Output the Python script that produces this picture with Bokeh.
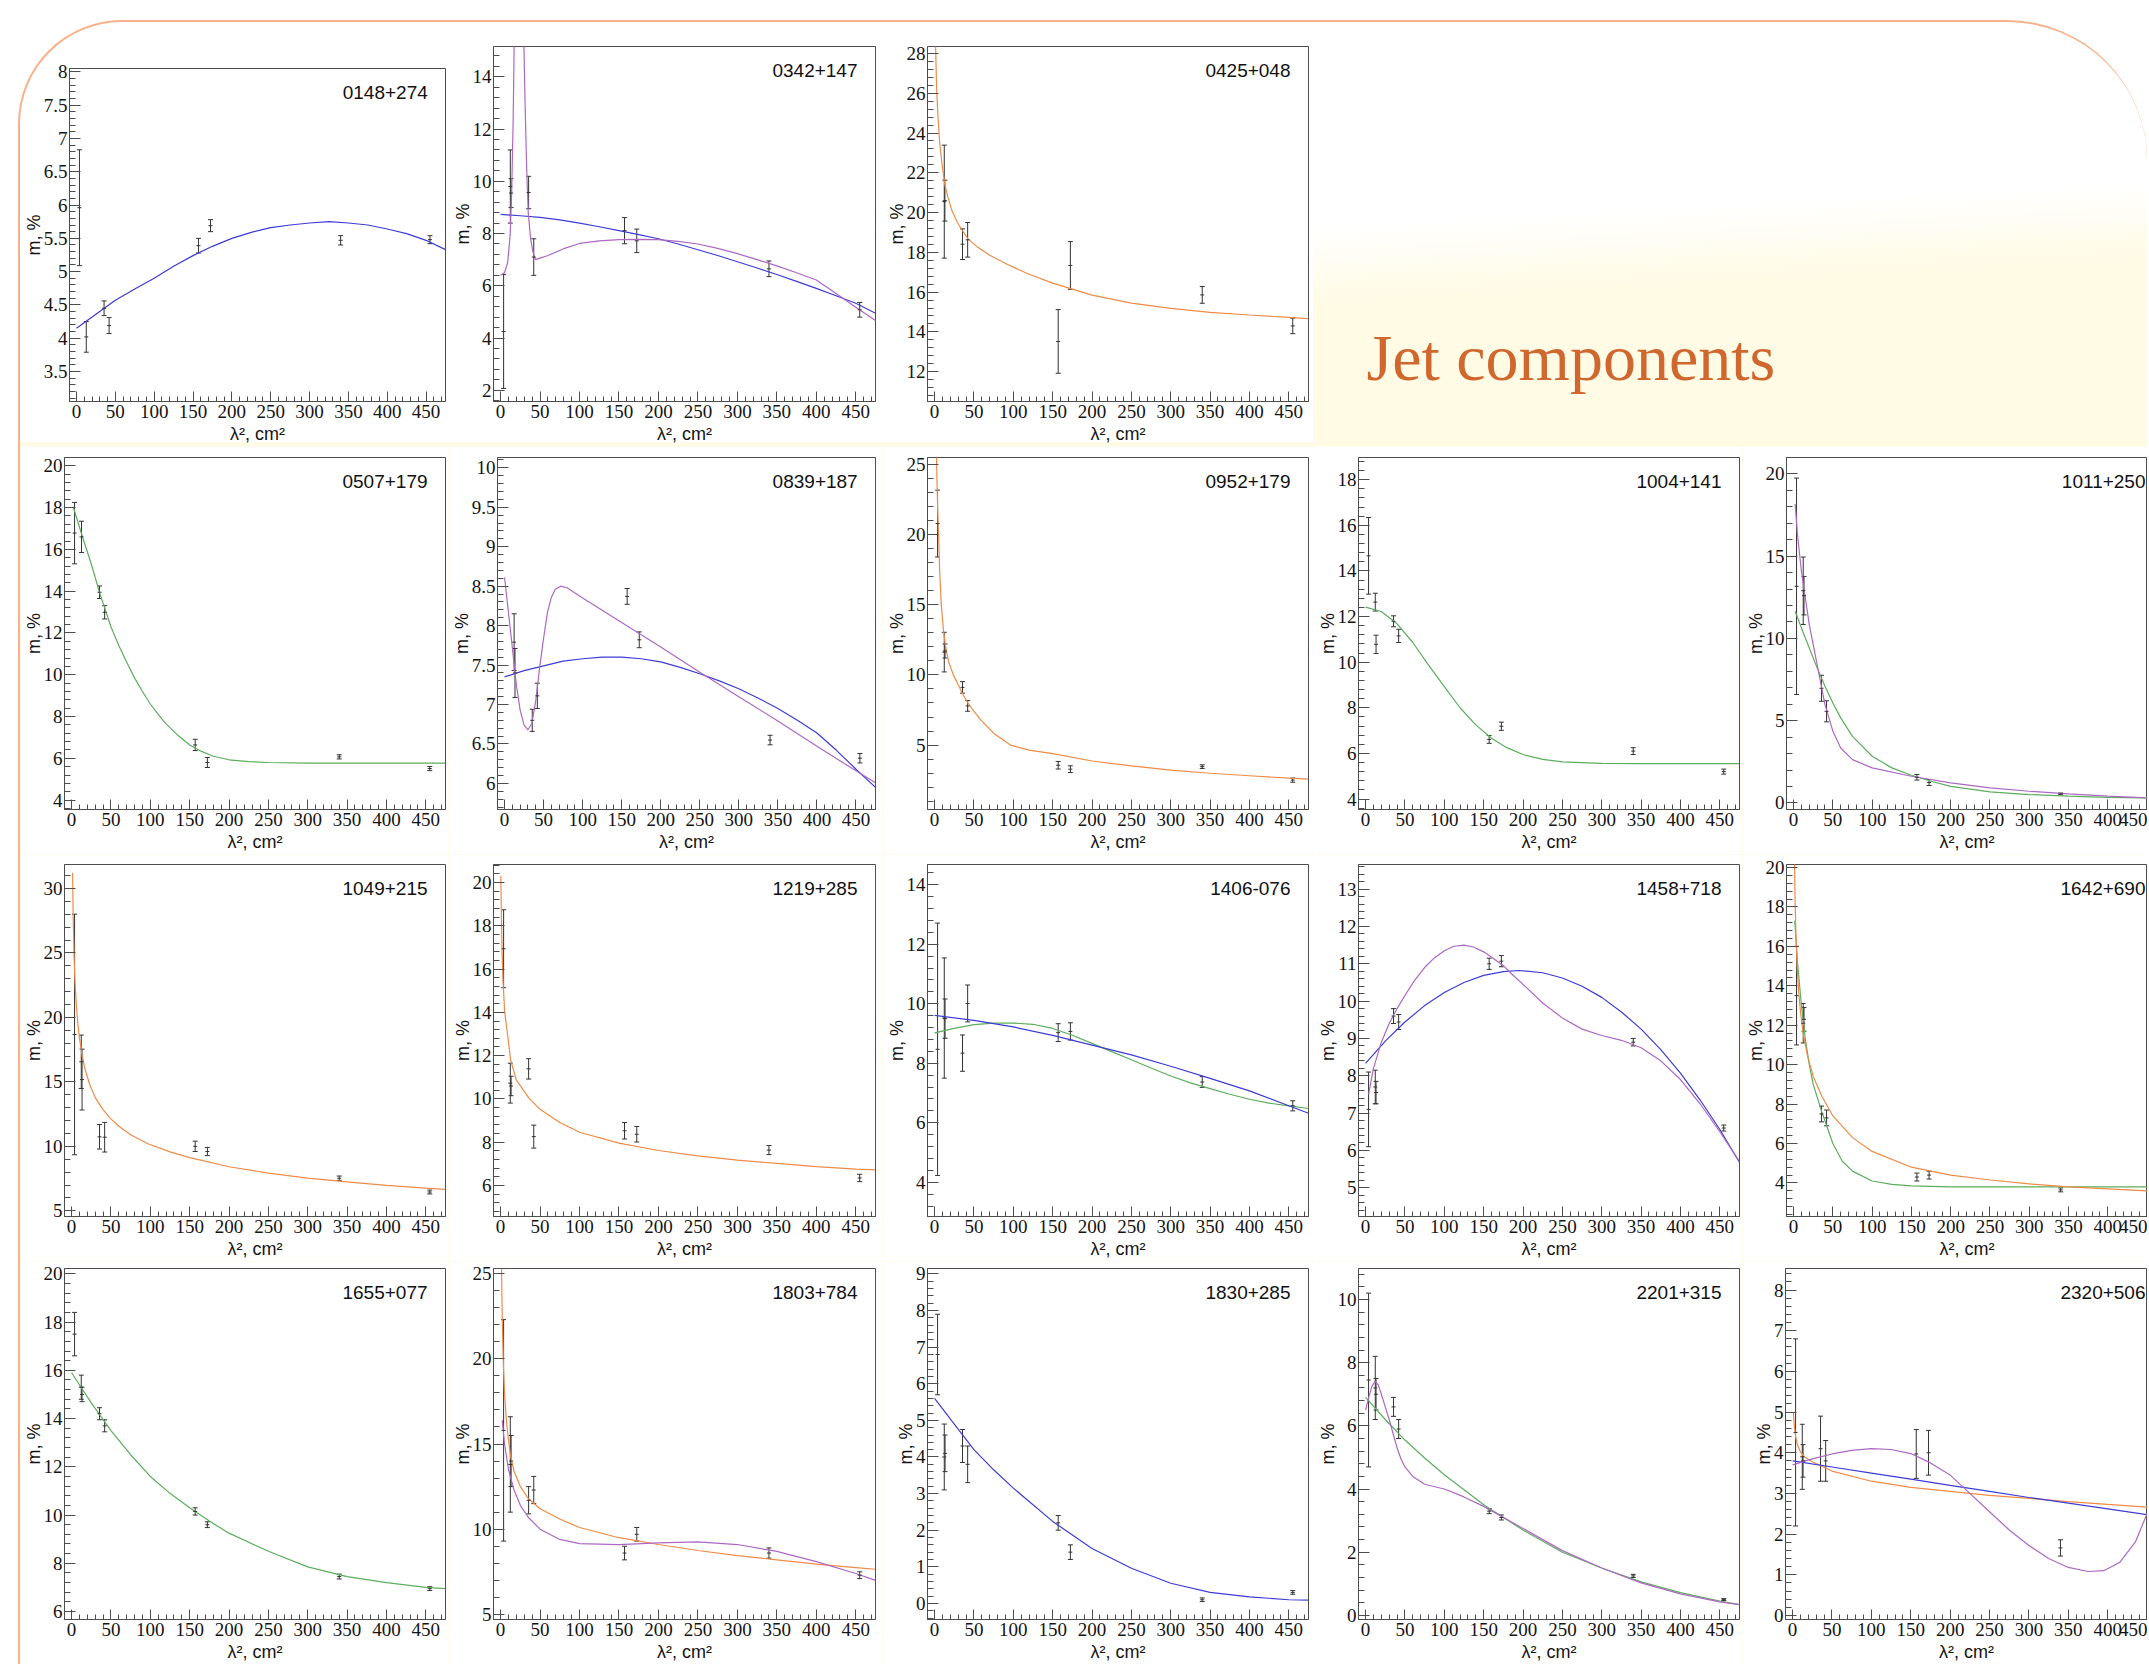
from bokeh.plotting import figure
from bokeh.models import (Range1d, SingleIntervalTicker, Whisker, TeeHead,
                          ColumnDataSource, Label, CustomJSTickFormatter, Spacer)
from bokeh.layouts import row, column
from bokeh.embed import file_html
from bokeh.resources import INLINE

BLUE = "#3c3cd7"
PURPLE = "#ad68c4"
GREEN = "#5cae5c"
ORANGE = "#ef8b46"
AXIS_C = "#4d4d4d"
BAR_C = "#333333"

XLABEL = "λ², cm²"
YLABEL = "m, %"
HEADING = "Jet components"

# ---------------- data: points (lambda^2, m, error) and fitted curves ----------------
s0148_x = [3.8, 12.6, 35.5, 42.0, 157.0, 172.5, 340.0, 455.0]
s0148_m = [5.96, 4.02, 4.45, 4.19, 5.39, 5.69, 5.47, 5.48]
s0148_e = [0.87, 0.23, 0.11, 0.12, 0.11, 0.09, 0.07, 0.06]
f0148_blue_x = [0, 25, 50, 75, 100, 125, 150, 175, 200, 225, 250, 275, 300, 325, 350, 375, 400, 425, 450, 475]
f0148_blue_y = [4.15, 4.36, 4.57, 4.74, 4.90, 5.08, 5.24, 5.38, 5.50, 5.59, 5.66, 5.70, 5.73, 5.75, 5.73, 5.70, 5.64, 5.57, 5.47, 5.33]

s0342_x = [3.8, 12.3, 13.3, 35.5, 42.0, 157.0, 172.5, 340.0, 455.0]
s0342_m = [4.25, 9.8, 9.55, 9.57, 7.1, 8.11, 7.72, 6.65, 5.08]
s0342_e = [2.18, 1.4, 0.55, 0.62, 0.7, 0.5, 0.45, 0.3, 0.28]
f0342_blue_x = [0, 25, 50, 75, 100, 125, 150, 175, 200, 225, 250, 275, 300, 325, 350, 375, 400, 425, 450, 475]
f0342_blue_y = [8.73, 8.68, 8.62, 8.52, 8.40, 8.26, 8.11, 7.96, 7.80, 7.60, 7.38, 7.16, 6.92, 6.68, 6.43, 6.17, 5.90, 5.62, 5.33, 4.95]
f0342_purple_x = [0, 5, 9, 12, 14, 16, 17.5, 29, 31, 33, 35, 38, 41, 44, 50, 60, 80, 100, 125, 150, 175, 200, 225, 250, 275, 300, 325, 350, 375, 400, 425, 450, 475]
f0342_purple_y = [6.4, 6.5, 6.9, 7.9, 9.5, 12.5, 16.0, 16.0, 13.0, 10.5, 8.8, 7.8, 7.3, 7.0, 7.06, 7.16, 7.42, 7.62, 7.72, 7.77, 7.78, 7.77, 7.70, 7.60, 7.43, 7.23, 7.00, 6.76, 6.50, 6.22, 5.70, 5.18, 4.67]

s0425_x = [12.3, 13.1, 35.5, 42.0, 157.0, 172.5, 340.0, 455.0]
s0425_m = [20.55, 20.6, 18.41, 18.63, 13.52, 17.34, 15.86, 14.3]
s0425_e = [2.84, 1.03, 0.77, 0.87, 1.6, 1.2, 0.42, 0.39]
f0425_orange_x = [1.3, 2.5, 4.2, 6.5, 9.6, 13, 16.8, 22, 29, 36, 43, 55, 70, 92, 120, 150, 200, 250, 300, 350, 400, 450, 475]
f0425_orange_y = [28.4, 26.3, 24.9, 23.5, 22.4, 21.4, 20.8, 20.1, 19.5, 19.05, 18.65, 18.25, 17.85, 17.4, 16.9, 16.45, 15.85, 15.45, 15.18, 14.98, 14.85, 14.73, 14.67]

s0507_x = [3.8, 12.6, 35.5, 42.0, 157.0, 172.5, 340.0, 455.0]
s0507_m = [16.78, 16.6, 13.95, 12.99, 6.64, 5.8, 6.07, 5.51]
s0507_e = [1.47, 0.75, 0.3, 0.32, 0.27, 0.24, 0.1, 0.1]
f0507_green_x = [2, 12.6, 25, 35, 42, 50, 60, 70, 80, 90, 100, 110, 120, 135, 150, 165, 180, 200, 225, 250, 300, 400, 475]
f0507_green_y = [18.05, 16.75, 15.3, 14.0, 13.2, 12.3, 11.4, 10.6, 9.85, 9.2, 8.6, 8.1, 7.65, 7.1, 6.64, 6.33, 6.1, 5.93, 5.84, 5.8, 5.77, 5.77, 5.77]

s0839_x = [12.3, 13.4, 35.5, 42.0, 157.0, 172.5, 340.0, 455.0]
s0839_m = [7.79, 7.40, 6.80, 7.11, 8.37, 7.82, 6.55, 6.32]
s0839_e = [0.36, 0.31, 0.14, 0.16, 0.10, 0.10, 0.06, 0.06]
f0839_blue_x = [0, 25, 50, 75, 100, 125, 150, 175, 200, 225, 250, 275, 300, 325, 350, 375, 400, 425, 450, 475]
f0839_blue_y = [7.35, 7.43, 7.49, 7.55, 7.58, 7.60, 7.60, 7.58, 7.54, 7.47, 7.39, 7.30, 7.20, 7.08, 6.95, 6.80, 6.64, 6.42, 6.18, 5.95]
f0839_purple_x = [0, 5, 10, 15, 20, 25, 30, 35, 40, 45, 50, 55, 60, 65, 72, 80, 100, 150, 200, 250, 300, 350, 400, 450, 475]
f0839_purple_y = [8.61, 8.17, 7.72, 7.26, 6.93, 6.74, 6.68, 6.76, 7.05, 7.47, 7.84, 8.17, 8.36, 8.46, 8.50, 8.48, 8.35, 8.04, 7.73, 7.41, 7.10, 6.79, 6.47, 6.16, 6.01]

s0952_x = [3.8, 12.3, 13.3, 35.5, 42.0, 157.0, 172.5, 340.0, 455.0]
s0952_m = [20.77, 11.62, 11.7, 9.11, 7.79, 3.57, 3.29, 3.47, 2.51]
s0952_e = [2.38, 1.41, 0.5, 0.41, 0.38, 0.27, 0.24, 0.13, 0.15]
f0952_orange_x = [2.4, 3.2, 4.0, 5.1, 6.5, 8.5, 11, 14, 18, 23.8, 30, 36, 42.4, 50, 58.6, 75, 96.8, 120, 150, 200, 250, 300, 350, 400, 450, 475]
f0952_orange_y = [25.5, 23.5, 21.6, 20.0, 17.3, 15.0, 13.3, 12.0, 10.9, 10.0, 9.3, 8.6, 8.0, 7.4, 6.8, 5.85, 5.0, 4.65, 4.39, 3.87, 3.52, 3.22, 3.0, 2.82, 2.65, 2.58]

s1004_x = [3.8, 12.3, 13.3, 35.5, 42.0, 157.0, 172.5, 340.0, 455.0]
s1004_m = [14.66, 12.63, 10.78, 11.79, 11.15, 6.61, 7.19, 6.10, 5.20]
s1004_e = [1.68, 0.39, 0.40, 0.24, 0.29, 0.17, 0.18, 0.15, 0.11]
f1004_green_x = [0, 20, 40, 60, 80, 100, 120, 140, 160, 180, 200, 225, 250, 300, 350, 400, 475]
f1004_green_y = [12.41, 12.22, 11.68, 10.86, 9.87, 8.93, 8.0, 7.25, 6.66, 6.24, 5.95, 5.74, 5.63, 5.56, 5.55, 5.55, 5.55]

s1011_x = [3.8, 12.3, 13.3, 35.5, 42.0, 157.0, 172.5, 340.0, 455.0]
s1011_m = [13.17, 12.9, 12.6, 6.97, 5.57, 1.56, 1.24, 0.55, 0.30]
s1011_e = [6.58, 2.05, 1.17, 0.79, 0.64, 0.17, 0.18, 0.05, 0.05]
f1011_purple_x = [2, 5, 10, 15, 20, 30, 40, 50, 60, 75, 100, 150, 200, 250, 300, 350, 400, 452]
f1011_purple_y = [18.18, 16.3, 14.08, 12.46, 10.84, 8.41, 5.98, 4.36, 3.34, 2.63, 2.13, 1.62, 1.22, 0.91, 0.71, 0.55, 0.41, 0.30]
f1011_green_x = [2, 10, 20, 30, 40, 50, 60, 75, 100, 125, 150, 175, 200, 250, 300, 350, 400, 452]
f1011_green_y = [11.65, 10.64, 9.42, 8.21, 7.09, 6.08, 5.17, 4.05, 2.84, 2.13, 1.68, 1.32, 1.01, 0.67, 0.51, 0.41, 0.34, 0.30]

s1049_x = [3.8, 12.3, 13.3, 35.5, 42.0, 157.0, 172.5, 340.0, 455.0]
s1049_m = [18.68, 16.56, 15.18, 10.74, 10.71, 10.0, 9.6, 7.53, 6.46]
s1049_e = [9.33, 2.07, 2.36, 0.95, 1.15, 0.4, 0.32, 0.17, 0.15]
f1049_orange_x = [1.3, 2, 3, 4, 5, 6.5, 8, 10, 13, 17, 23, 30, 38, 48, 60, 75, 97, 125, 150, 200, 250, 300, 350, 400, 450, 475]
f1049_orange_y = [31.2, 27.9, 25.1, 23.3, 22.0, 20.6, 19.5, 18.4, 17.2, 16.0, 14.8, 13.8, 13.0, 12.25, 11.56, 10.9, 10.2, 9.57, 9.13, 8.42, 7.93, 7.54, 7.24, 6.98, 6.76, 6.66]

s1219_x = [3.8, 12.3, 13.3, 35.5, 42.0, 157.0, 172.5, 340.0, 455.0]
s1219_m = [16.94, 10.73, 10.6, 11.39, 8.26, 8.53, 8.37, 7.64, 6.35]
s1219_e = [1.8, 0.92, 0.45, 0.47, 0.53, 0.38, 0.36, 0.21, 0.17]
f1219_orange_x = [0.3, 1.0, 2.0, 3.0, 5.1, 9.3, 12.7, 19.9, 35.6, 50, 75, 100, 150, 200, 250, 300, 350, 400, 450, 475]
f1219_orange_y = [20.3, 18.4, 16.6, 15.5, 14.05, 12.84, 11.8, 10.88, 10.05, 9.52, 8.91, 8.46, 7.96, 7.62, 7.37, 7.17, 7.02, 6.87, 6.76, 6.72]

s1406_x = [3.8, 12.3, 13.3, 35.5, 42.0, 157.0, 172.5, 340.0, 455.0]
s1406_m = [8.47, 9.52, 9.5, 8.34, 10.01, 9.03, 9.07, 7.37, 6.57]
s1406_e = [4.24, 2.02, 0.66, 0.61, 0.62, 0.3, 0.29, 0.18, 0.17]
f1406_blue_x = [0, 50, 100, 150, 200, 250, 300, 350, 400, 450, 475]
f1406_blue_y = [9.61, 9.44, 9.22, 8.94, 8.61, 8.28, 7.90, 7.49, 7.07, 6.57, 6.32]
f1406_green_x = [0, 25, 50, 75, 100, 125, 150, 175, 200, 225, 250, 275, 300, 325, 350, 375, 400, 425, 450, 475]
f1406_green_y = [9.02, 9.17, 9.30, 9.35, 9.35, 9.31, 9.17, 8.94, 8.67, 8.39, 8.12, 7.84, 7.57, 7.34, 7.15, 6.96, 6.79, 6.66, 6.57, 6.48]

s1458_x = [3.8, 12.3, 13.3, 35.5, 42.0, 157.0, 172.5, 340.0, 455.0]
s1458_m = [7.1, 7.7, 7.55, 9.6, 9.44, 11.0, 11.07, 8.9, 6.6]
s1458_e = [1.0, 0.45, 0.3, 0.2, 0.2, 0.15, 0.15, 0.1, 0.08]
f1458_blue_x = [0, 25, 50, 75, 100, 125, 150, 175, 195, 225, 250, 275, 300, 325, 350, 375, 400, 425, 450, 475]
f1458_blue_y = [8.33, 8.93, 9.44, 9.88, 10.23, 10.5, 10.69, 10.79, 10.82, 10.76, 10.62, 10.4, 10.1, 9.71, 9.25, 8.7, 8.07, 7.35, 6.56, 5.68]
f1458_purple_x = [3.8, 10, 20, 30, 40, 50, 62, 75, 87, 100, 112, 125, 137, 150, 162, 175, 187, 200, 225, 250, 275, 300, 325, 350, 375, 400, 425, 450, 475]
f1458_purple_y = [7.5, 8.2, 8.9, 9.4, 9.8, 10.15, 10.55, 10.9, 11.15, 11.35, 11.47, 11.5, 11.45, 11.32, 11.15, 10.95, 10.7, 10.45, 9.95, 9.55, 9.25, 9.08, 8.95, 8.75, 8.4, 7.9, 7.25, 6.5, 5.7]

s1642_x = [3.8, 12.3, 13.3, 35.5, 42.0, 157.0, 172.5, 340.0, 455.0]
s1642_m = [13.5, 12.1, 12.3, 7.5, 7.3, 4.3, 4.4, 3.65, 3.6]
s1642_e = [2.5, 1.0, 0.6, 0.4, 0.4, 0.2, 0.2, 0.1, 0.1]
f1642_orange_x = [1.2, 2, 3, 4.5, 6.5, 9, 12.6, 18, 25, 36, 50, 75, 100, 150, 200, 250, 300, 350, 400, 452]
f1642_orange_y = [20.3, 18.2, 16.6, 15.0, 13.7, 12.6, 11.5, 10.4, 9.4, 8.4, 7.4, 6.3, 5.6, 4.8, 4.4, 4.15, 3.95, 3.8, 3.7, 3.6]
f1642_green_x = [1.5, 5, 10, 15, 20, 25, 36, 50, 62, 75, 100, 125, 150, 200, 250, 300, 350, 400, 452]
f1642_green_y = [17.3, 15.2, 13.0, 11.3, 10.0, 9.0, 7.6, 6.0, 5.1, 4.6, 4.1, 3.93, 3.85, 3.8, 3.8, 3.8, 3.8, 3.8, 3.8]

s1655_x = [3.8, 12.3, 13.3, 35.5, 42.0, 157.0, 172.5, 340.0, 455.0]
s1655_m = [17.5, 15.3, 15.0, 14.2, 13.7, 10.15, 9.6, 7.45, 6.95]
s1655_e = [0.9, 0.5, 0.3, 0.25, 0.25, 0.15, 0.12, 0.1, 0.08]
f1655_green_x = [0, 25, 50, 75, 100, 125, 150, 175, 200, 250, 300, 350, 400, 450, 475]
f1655_green_y = [15.9, 14.65, 13.5, 12.5, 11.6, 10.9, 10.3, 9.75, 9.25, 8.5, 7.85, 7.45, 7.2, 7.0, 6.95]

s1803_x = [3.8, 12.3, 13.3, 35.5, 42.0, 157.0, 172.5, 340.0, 455.0]
s1803_m = [15.8, 13.8, 14.0, 11.7, 12.3, 8.6, 9.7, 8.6, 7.3]
s1803_e = [6.5, 2.8, 1.5, 0.8, 0.8, 0.4, 0.4, 0.3, 0.2]
f1803_orange_x = [1.2, 2, 3, 3.8, 5, 7, 9, 12.6, 17, 25, 35, 50, 75, 100, 150, 200, 250, 300, 350, 400, 450, 475]
f1803_orange_y = [25.3, 22.5, 20.5, 19.3, 18.0, 16.6, 15.6, 14.3, 13.4, 12.5, 11.8, 11.2, 10.6, 10.1, 9.5, 9.1, 8.75, 8.45, 8.2, 7.95, 7.75, 7.65]
f1803_purple_x = [2, 5, 10, 17, 25, 35, 50, 75, 100, 150, 200, 250, 300, 350, 400, 450, 475]
f1803_purple_y = [16.4, 15.0, 13.5, 12.3, 11.4, 10.7, 10.0, 9.4, 9.15, 9.1, 9.2, 9.25, 9.1, 8.7, 8.1, 7.4, 7.0]

s1830_x = [3.8, 12.3, 13.3, 35.5, 42.0, 157.0, 172.5, 340.0, 455.0]
s1830_m = [6.8, 4.0, 4.1, 4.3, 3.8, 2.2, 1.4, 0.1, 0.3]
s1830_e = [1.1, 0.9, 0.5, 0.45, 0.5, 0.2, 0.2, 0.05, 0.05]
f1830_blue_x = [0, 25, 50, 75, 100, 150, 200, 250, 300, 350, 400, 450, 475]
f1830_blue_y = [5.6, 4.9, 4.2, 3.65, 3.15, 2.24, 1.5, 0.96, 0.55, 0.3, 0.18, 0.1, 0.09]

s2201_x = [3.8, 12.3, 13.3, 35.5, 42.0, 157.0, 172.5, 340.0, 455.0]
s2201_m = [7.45, 7.2, 7.0, 6.6, 5.9, 3.3, 3.1, 1.25, 0.5]
s2201_e = [2.75, 1.0, 0.5, 0.3, 0.3, 0.08, 0.08, 0.05, 0.03]
f2201_green_x = [0, 25, 50, 75, 100, 150, 200, 250, 300, 350, 400, 450, 475]
f2201_green_y = [6.9, 6.2, 5.55, 4.98, 4.45, 3.5, 2.7, 2.0, 1.5, 1.06, 0.72, 0.45, 0.34]
f2201_purple_x = [0, 4, 8, 12, 16, 20, 25, 30, 35, 40, 45, 50, 60, 75, 100, 125, 150, 200, 250, 300, 350, 400, 450, 475]
f2201_purple_y = [6.5, 6.9, 7.25, 7.4, 7.3, 7.0, 6.6, 6.2, 5.75, 5.3, 4.95, 4.7, 4.4, 4.15, 4.0, 3.75, 3.45, 2.75, 2.05, 1.5, 1.03, 0.68, 0.43, 0.34]

s2320_x = [3.8, 12.3, 13.3, 35.5, 42.0, 157.0, 172.5, 340.0, 455.0]
s2320_m = [4.5, 3.9, 3.8, 4.1, 3.8, 3.97, 4.0, 1.66, 2.7]
s2320_e = [2.3, 0.8, 0.4, 0.8, 0.5, 0.6, 0.55, 0.2, 0.3]
f2320_orange_x = [1, 2, 3.8, 6, 10, 15, 25, 50, 100, 150, 200, 250, 300, 350, 400, 452]
f2320_orange_y = [5.0, 4.7, 4.4, 4.2, 4.02, 3.9, 3.78, 3.55, 3.3, 3.15, 3.05, 2.95, 2.88, 2.8, 2.73, 2.66]
f2320_blue_x = [0, 50, 100, 150, 200, 250, 300, 350, 400, 452]
f2320_blue_y = [3.8, 3.65, 3.5, 3.35, 3.2, 3.05, 2.9, 2.76, 2.62, 2.47]
f2320_purple_x = [0, 25, 50, 75, 100, 125, 150, 175, 200, 225, 250, 275, 300, 325, 350, 375, 395, 415, 435, 452]
f2320_purple_y = [3.7, 3.85, 3.97, 4.06, 4.1, 4.08, 3.98, 3.75, 3.45, 3.0, 2.55, 2.1, 1.72, 1.4, 1.18, 1.08, 1.1, 1.3, 1.8, 2.6]

SPEC = {
    "0148+274": dict(x=s0148_x, m=s0148_m, e=s0148_e, yr=(3.05, 8.05), yt=0.5,
                     fits=[(BLUE, f0148_blue_x, f0148_blue_y)]),
    "0342+147": dict(x=s0342_x, m=s0342_m, e=s0342_e, yr=(1.57, 15.16), yt=2,
                     fits=[(BLUE, f0342_blue_x, f0342_blue_y), (PURPLE, f0342_purple_x, f0342_purple_y)]),
    "0425+048": dict(x=s0425_x, m=s0425_m, e=s0425_e, yr=(10.5, 28.35), yt=2,
                     fits=[(ORANGE, f0425_orange_x, f0425_orange_y)]),
    "0507+179": dict(x=s0507_x, m=s0507_m, e=s0507_e, yr=(3.55, 20.4), yt=2,
                     fits=[(GREEN, f0507_green_x, f0507_green_y)]),
    "0839+187": dict(x=s0839_x, m=s0839_m, e=s0839_e, yr=(5.67, 10.13), yt=0.5,
                     fits=[(BLUE, f0839_blue_x, f0839_blue_y), (PURPLE, f0839_purple_x, f0839_purple_y)]),
    "0952+179": dict(x=s0952_x, m=s0952_m, e=s0952_e, yr=(0.42, 25.47), yt=5,
                     fits=[(ORANGE, f0952_orange_x, f0952_orange_y)]),
    "1004+141": dict(x=s1004_x, m=s1004_m, e=s1004_e, yr=(3.54, 18.97), yt=2,
                     fits=[(GREEN, f1004_green_x, f1004_green_y)]),
    "1011+250": dict(x=s1011_x, m=s1011_m, e=s1011_e, yr=(-0.4, 21.0), yt=5,
                     fits=[(GREEN, f1011_green_x, f1011_green_y), (PURPLE, f1011_purple_x, f1011_purple_y)]),
    "1049+215": dict(x=s1049_x, m=s1049_m, e=s1049_e, yr=(4.56, 31.86), yt=5,
                     fits=[(ORANGE, f1049_orange_x, f1049_orange_y)]),
    "1219+285": dict(x=s1219_x, m=s1219_m, e=s1219_e, yr=(4.57, 20.83), yt=2,
                     fits=[(ORANGE, f1219_orange_x, f1219_orange_y)]),
    "1406-076": dict(x=s1406_x, m=s1406_m, e=s1406_e, yr=(2.85, 14.68), yt=2,
                     fits=[(GREEN, f1406_green_x, f1406_green_y), (BLUE, f1406_blue_x, f1406_blue_y)]),
    "1458+718": dict(x=s1458_x, m=s1458_m, e=s1458_e, yr=(4.23, 13.66), yt=1,
                     fits=[(BLUE, f1458_blue_x, f1458_blue_y), (PURPLE, f1458_purple_x, f1458_purple_y)]),
    "1642+690": dict(x=s1642_x, m=s1642_m, e=s1642_e, yr=(2.3, 20.15), yt=2,
                     fits=[(GREEN, f1642_green_x, f1642_green_y), (ORANGE, f1642_orange_x, f1642_orange_y)]),
    "1655+077": dict(x=s1655_x, m=s1655_m, e=s1655_e, yr=(5.67, 20.22), yt=2,
                     fits=[(GREEN, f1655_green_x, f1655_green_y)]),
    "1803+784": dict(x=s1803_x, m=s1803_m, e=s1803_e, yr=(4.7, 25.3), yt=5,
                     fits=[(ORANGE, f1803_orange_x, f1803_orange_y), (PURPLE, f1803_purple_x, f1803_purple_y)]),
    "1830+285": dict(x=s1830_x, m=s1830_m, e=s1830_e, yr=(-0.44, 9.15), yt=1,
                     fits=[(BLUE, f1830_blue_x, f1830_blue_y)]),
    "2201+315": dict(x=s2201_x, m=s2201_m, e=s2201_e, yr=(-0.13, 10.98), yt=2,
                     fits=[(GREEN, f2201_green_x, f2201_green_y), (PURPLE, f2201_purple_x, f2201_purple_y)]),
    "2320+506": dict(x=s2320_x, m=s2320_m, e=s2320_e, yr=(-0.1, 8.53), yt=1,
                     fits=[(ORANGE, f2320_orange_x, f2320_orange_y), (BLUE, f2320_blue_x, f2320_blue_y),
                           (PURPLE, f2320_purple_x, f2320_purple_y)]),
}

GRID = [
    ["0148+274", "0342+147", "0425+048"],
    ["0507+179", "0839+187", "0952+179", "1004+141", "1011+250"],
    ["1049+215", "1219+285", "1406-076", "1458+718", "1642+690"],
    ["1655+077", "1803+784", "1830+285", "2201+315", "2320+506"],
]

# ---------------- layout geometry (pixels) ----------------
# column: (canvas width, left border, frame width, right border)
COLS = [(428, 43, 382, 3), (434, 45, 382, 7), (431, 45, 381, 5), (429, 45, 381, 3), (405, 43, 362, 0)]
# row: (canvas height, top border, frame height, bottom border)
ROWS = [(424, 24, 358, 42), (408, 11, 357, 40), (407, 10, 357, 40), (403, 7, 356, 40)]
FIRST_DROP = 22   # the first panel sits lower than its neighbours
PAGE_LEFT = 18
PAGE_TOP = 20


def make_panel(name, ci, ri):
    spec = SPEC[name]
    W, fl, fw, fr = COLS[ci]
    H, ft, fh, fb = ROWS[ri]
    if (ri, ci) == (0, 0):
        H = H - FIRST_DROP
        fh = fh - FIRST_DROP
    x0 = -9.0
    x1 = 450.5 if ci == 4 else 475.0
    y0, y1 = spec["yr"]
    p = figure(width=W, height=H, x_range=Range1d(x0, x1), y_range=Range1d(y0, y1),
               output_backend="svg", toolbar_location=None,
               min_border_left=fl, min_border_right=fr,
               min_border_top=ft, min_border_bottom=fb)
    p.background_fill_color = "#ffffff"
    p.border_fill_color = "#ffffff"
    if ri == 0:
        p.border_fill_alpha = 0.0
    p.outline_line_color = AXIS_C
    p.outline_line_width = 1
    p.xgrid.visible = False
    p.ygrid.visible = False

    p.xaxis.ticker = SingleIntervalTicker(interval=50, num_minor_ticks=5)
    p.yaxis.ticker = SingleIntervalTicker(interval=spec["yt"], num_minor_ticks=5)
    p.yaxis.formatter = CustomJSTickFormatter(code="return String(Math.round(tick * 1000) / 1000);")
    p.xaxis.axis_label = XLABEL
    p.yaxis.axis_label = YLABEL
    for ax in (p.xaxis, p.yaxis):
        ax.axis_line_color = AXIS_C
        ax.major_tick_line_color = AXIS_C
        ax.minor_tick_line_color = AXIS_C
        ax.major_tick_out = 0
        ax.minor_tick_out = 0
        ax.major_label_text_font = "Liberation Serif"
        ax.major_label_text_font_size = "19px"
        ax.major_label_text_color = "#141414"
        ax.axis_label_text_font = "Liberation Sans"
        ax.axis_label_text_font_size = "18px"
        ax.axis_label_text_font_style = "normal"
        ax.axis_label_text_color = "#141414"
    p.yaxis.major_tick_in = 11
    p.yaxis.minor_tick_in = 6
    p.xaxis.major_tick_in = 10
    p.xaxis.minor_tick_in = 5
    p.xaxis.major_label_standoff = 3
    p.xaxis.axis_label_standoff = 3
    p.yaxis.major_label_standoff = 2
    p.yaxis.axis_label_standoff = -3

    for color, fx, fy in spec["fits"]:
        p.line(fx, fy, line_color=color, line_width=1.2)

    lo = [m - e for m, e in zip(spec["m"], spec["e"])]
    hi = [m + e for m, e in zip(spec["m"], spec["e"])]
    src = ColumnDataSource(dict(x=spec["x"], m=spec["m"], lo=lo, hi=hi))
    p.add_layout(Whisker(base="x", upper="hi", lower="lo", source=src,
                         line_color=BAR_C, line_width=1,
                         upper_head=TeeHead(size=5, line_color=BAR_C, line_width=1),
                         lower_head=TeeHead(size=5, line_color=BAR_C, line_width=1)))
    p.scatter("x", "m", source=src, marker="dash", size=4, line_color=BAR_C)

    sx = fw / (x1 - x0)
    sy = fh / (y1 - y0)
    right_off = 2 if ci == 4 else 18
    p.add_layout(Label(x=x1 - right_off / sx, y=y1 - 24 / sy, text=name,
                       text_align="right", text_baseline="middle",
                       text_font="Liberation Sans", text_font_size="19px",
                       text_color="#111111"))
    if (ri, ci) == (0, 0):
        return column(Spacer(width=W, height=FIRST_DROP), p, spacing=0)
    return p


def make_heading():
    # one-pixel margin on every side keeps it out of the panels' border alignment
    w = COLS[3][0] + COLS[4][0] - 2
    h = ROWS[0][0] - 2
    p = figure(width=w, height=h, x_range=Range1d(0, w), y_range=Range1d(0, h),
               output_backend="svg", toolbar_location=None,
               x_axis_type=None, y_axis_type=None,
               min_border_left=0, min_border_right=0, min_border_top=0, min_border_bottom=0)
    p.outline_line_color = None
    p.background_fill_alpha = 0.0
    p.border_fill_alpha = 0.0
    p.add_layout(Label(x=52, y=88, text=HEADING, text_align="left",
                       text_baseline="alphabetic", text_font="Liberation Serif",
                       text_font_size="66px", text_color="#d0672e"))
    return column(Spacer(width=w + 2, height=1),
                  row(Spacer(width=1, height=h), p, Spacer(width=1, height=h), spacing=0),
                  Spacer(width=w + 2, height=1), spacing=0)


rows = []
for ri, names in enumerate(GRID):
    figs = [make_panel(n, ci, ri) for ci, n in enumerate(names)]
    if ri == 0:
        figs.append(make_heading())
    rows.append(row(figs, spacing=0))

white_w = COLS[0][0] + COLS[1][0] + COLS[2][0]
white_h = ROWS[0][0] - 4
slide = column(rows, spacing=0, styles={
    "border-top": "2px solid #f7b28b",
    "border-left": "2px solid #f7b28b",
    "border-top-left-radius": "104px",
    "border-top-right-radius": "140px",
    "background": ("linear-gradient(#ffffff, #ffffff) left top / %dpx %dpx no-repeat, "
                   "linear-gradient(177deg, #ffffff 0%%, #ffffff 15.5%%, #fffbe4 20%%, #fffbe4 100%%)"
                   % (white_w, white_h)),
})

root = column(Spacer(width=PAGE_LEFT, height=PAGE_TOP),
              row(Spacer(width=PAGE_LEFT, height=10), slide, spacing=0),
              spacing=0)

open("out.html", "w").write(file_html(root, INLINE, title="Jet components"))
